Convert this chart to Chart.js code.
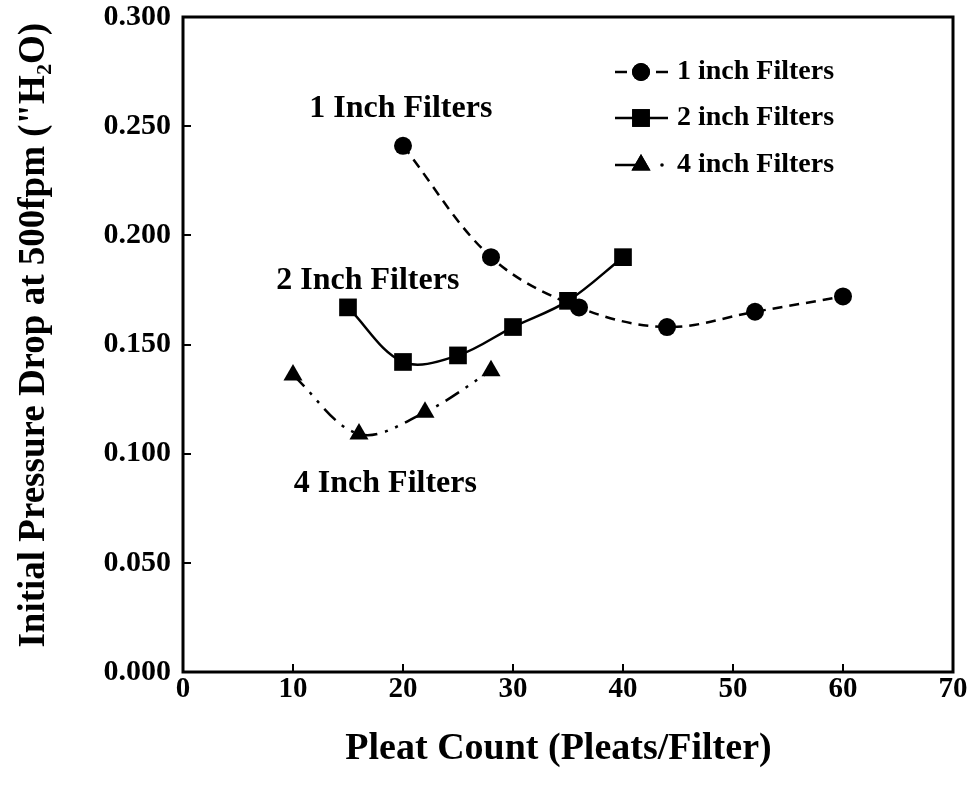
<!DOCTYPE html>
<html>
<head>
<meta charset="utf-8">
<script src="https://cdn.jsdelivr.net/npm/chart.js@4.4.1/dist/chart.umd.min.js"></script>
<style>
  html, body { margin: 0; padding: 0; background: #fff; }
  #wrap { width: 971px; height: 798px; position: relative; }
</style>
</head>
<body>
<div id="wrap"><canvas id="c" width="971" height="798"></canvas></div>
<script>
// ---- data ----
const pleats1 = [20, 28, 36, 44, 52, 60];
const drop1   = [0.241, 0.190, 0.167, 0.158, 0.165, 0.172];
const pleats2 = [15, 20, 25, 30, 35, 40];
const drop2   = [0.167, 0.142, 0.145, 0.158, 0.170, 0.190];
const pleats4 = [10, 16, 22, 28];
const drop4   = [0.136, 0.109, 0.119, 0.138];
const seriesNames = ['1 inch Filters', '2 inch Filters', '4 inch Filters'];
const xTicks = [0, 10, 20, 30, 40, 50, 60, 70];
const yTicks = [0.000, 0.050, 0.100, 0.150, 0.200, 0.250, 0.300];
const noteTexts = ['1 Inch Filters', '2 Inch Filters', '4 Inch Filters'];
const noteX = [19.8, 16.8, 18.4];
const noteY = [0.258, 0.179, 0.086];
const xTitle = 'Pleat Count (Pleats/Filter)  ';
const yTitle = '  Initial Pressure Drop at 500fpm ("H\u2082O)';

const FONT = '"Liberation Serif", "Times New Roman", serif';
const toPts = (xs, ys) => xs.map((x, i) => ({x, y: ys[i]}));

const styles = [
  {pointStyle: 'circle', radius: 9, dash: [10, 7]},
  {pointStyle: 'rect', radius: 12.5, dash: []},
  {pointStyle: 'triangle', radius: 11, dash: [16, 8, 3, 8, 3, 8]}
];
const allData = [toPts(pleats1, drop1), toPts(pleats2, drop2), toPts(pleats4, drop4)];

const datasets = allData.map((d, i) => ({
  label: seriesNames[i],
  data: d,
  borderColor: '#000',
  backgroundColor: '#000',
  borderWidth: 2.5,
  borderDash: styles[i].dash,
  pointStyle: styles[i].pointStyle,
  pointRadius: styles[i].radius,
  pointHoverRadius: styles[i].radius,
  pointBorderWidth: 0,
  tension: 0.35,
  fill: false
}));

const framePlugin = {
  id: 'frame',
  afterDraw(chart) {
    const {ctx, chartArea: a, scales: {x, y}} = chart;
    ctx.save();
    ctx.strokeStyle = '#000';
    ctx.fillStyle = '#000';
    // inner tick marks
    ctx.lineWidth = 2;
    ctx.beginPath();
    xTicks.forEach(v => {
      const px = Math.round(x.getPixelForValue(v));
      ctx.moveTo(px, a.bottom); ctx.lineTo(px, a.bottom - 8);
    });
    yTicks.forEach(v => {
      const py = Math.round(y.getPixelForValue(v));
      ctx.moveTo(a.left, py); ctx.lineTo(a.left + 8, py);
    });
    ctx.stroke();
    // box
    ctx.lineWidth = 3;
    ctx.strokeRect(a.left, a.top, a.right - a.left, a.bottom - a.top);
    // annotations
    ctx.font = 'bold 32px ' + FONT;
    ctx.textAlign = 'center';
    ctx.textBaseline = 'middle';
    noteTexts.forEach((t, i) => {
      ctx.fillText(t, x.getPixelForValue(noteX[i]), y.getPixelForValue(noteY[i]));
    });
    // legend
    const lx0 = 615, lx1 = 668, lmx = 641, ly = [72, 118, 165];
    chart.data.datasets.forEach((ds, i) => {
      ctx.lineWidth = 2.5;
      ctx.beginPath();
      if (i === 0) { ctx.moveTo(lx0, ly[i]); ctx.lineTo(lx0 + 12, ly[i]); ctx.moveTo(lx1 - 12, ly[i]); ctx.lineTo(lx1, ly[i]); }
      else if (i === 1) { ctx.moveTo(lx0, ly[i]); ctx.lineTo(lx1, ly[i]); }
      else { ctx.moveTo(lx0, ly[i]); ctx.lineTo(lmx, ly[i]); }
      ctx.stroke();
      if (i === 2) { ctx.beginPath(); ctx.arc(lx1 - 6, ly[i], 1.8, 0, Math.PI * 2); ctx.fill(); }
      Chart.helpers.drawPoint(ctx, {pointStyle: ds.pointStyle, radius: ds.pointRadius, rotation: 0, borderWidth: 0}, lmx, ly[i]);
      ctx.fill();
      ctx.font = 'bold 28px ' + FONT;
      ctx.textAlign = 'left';
      ctx.textBaseline = 'middle';
      ctx.fillText(ds.label, 677, ly[i]);
    });
    ctx.restore();
  }
};

new Chart(document.getElementById('c'), {
  type: 'line',
  data: {datasets},
  options: {
    responsive: false,
    animation: false,
    events: [],
    layout: {padding: {top: 17, right: 18, left: 0, bottom: 0}},
    plugins: {legend: {display: false}, tooltip: {enabled: false}},
    scales: {
      x: {
        type: 'linear', min: 0, max: 70,
        afterBuildTicks(s) { s.ticks = xTicks.map(v => ({value: v})); },
        afterFit(s) { s.height = 126; s.paddingLeft = 0; s.paddingRight = 0; },
        grid: {display: false, drawTicks: false},
        border: {display: false},
        ticks: {padding: 0, color: '#000', font: {family: FONT, weight: 'bold', size: 29},
                maxRotation: 0, callback: v => String(v)},
        title: {display: true, text: xTitle, color: '#000', padding: {top: 0, bottom: 26},
                font: {family: FONT, weight: 'bold', size: 38}}
      },
      y: {
        type: 'linear', min: 0, max: 0.3,
        afterBuildTicks(s) { s.ticks = yTicks.map(v => ({value: v})); },
        afterFit(s) { s.width = 183; s.paddingTop = 0; s.paddingBottom = 0; },
        grid: {display: false, drawTicks: false},
        border: {display: false},
        ticks: {padding: 12, color: '#000', font: {family: FONT, weight: 'bold', size: 30},
                callback: v => Number(v).toFixed(3)},
        title: {display: true, text: yTitle, color: '#000', padding: {top: 12, bottom: 0},
                font: {family: FONT, weight: 'bold', size: 37}}
      }
    }
  },
  plugins: [framePlugin]
});
</script>
</body>
</html>
